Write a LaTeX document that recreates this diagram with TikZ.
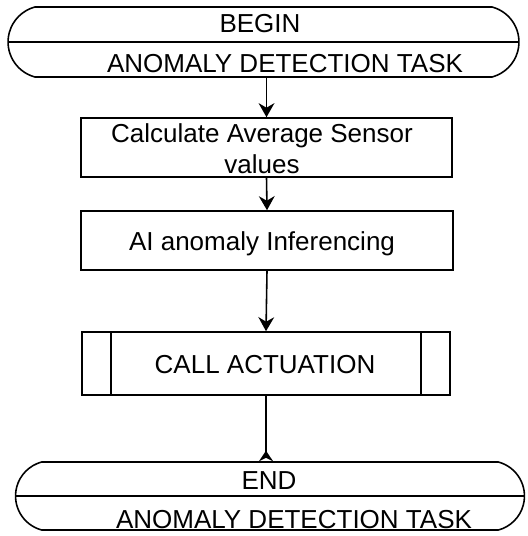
\documentclass[tikz,border=0pt]{standalone}
\usepackage{fontspec}
\setmainfont{Liberation Sans}
\usepackage{tikz}
\usetikzlibrary{
		arrows.meta,
		shapes.misc
	}
\tikzset{%
		every text node part/.style = {
			align = center
		},
		label/.style = {
			inner sep = 0pt,
			font = \fontsize{14.8}{17.5}\selectfont
		},
		terminal/.style = {
			draw,
			rounded rectangle,
			rounded rectangle arc length = 150,
			inner sep = 0pt,
			line width = 0.9pt,
			path picture = {%
				\draw [line width = 0.9pt]
					(path picture bounding box.west) --
					(path picture bounding box.east);
			}
		},
		block/.style = {
			draw,
			rectangle,
			inner sep = 0pt,
			line width = 0.9pt
		},
		subroutine/.style = {
			block,
			path picture = {%
				\draw [line width = 0.9pt]
					([xshift=0.58cm]path picture bounding box.north west) --
					([xshift=0.58cm]path picture bounding box.south west)
					([xshift=-0.58cm]path picture bounding box.north east) --
					([xshift=-0.58cm]path picture bounding box.south east);
			}
		},
		flow/.style = {
			line width = 0.9pt,
			-{Stealth[length=8pt, width=9pt]}
		}
	}

\begin{document}
\begin{tikzpicture}[x=0.02cm, y=-0.02cm]
		\useasboundingbox (0, 0) rectangle (527, 536);

		\node [terminal, minimum width=10.22cm, minimum height=1.4cm] (begin) at (263.5, 42) {};
		\node [label] (begintitle) at (260, 24) {BEGIN};
		\node [label] (begintask) at (285, 64) {ANOMALY DETECTION TASK};

		\node [block, minimum width=7.42cm, minimum height=1.18cm] (average) at (266.5, 147.5) {};
		\node [label] (averagetext) at (262, 149) {Calculate Average Sensor\\values};

		\node [block, minimum width=7.44cm, minimum height=1.18cm] (inference) at (267, 240.5) {};
		\node [label] (inferencetext) at (262, 244) {AI anomaly Inferencing};

		\node [subroutine, minimum width=7.36cm, minimum height=1.26cm] (actuation) at (266, 363.5) {};
		\node [label] (actuationtext) at (265, 365) {CALL ACTUATION};

		\node [terminal, minimum width=10.18cm, minimum height=1.36cm] (end) at (270, 496) {};
		\node [label] (endtitle) at (269, 481) {END};
		\node [label] (endtask) at (294, 520) {ANOMALY DETECTION TASK};

		\draw [flow] (begin.south -| average.north) -- (average.north);
		\draw [flow] (average.south) -- (inference.north);
		\draw [flow] (inference.south) -- (actuation.north);
		\draw [line width = 0.9pt, -{Stealth[reversed, length=6pt, width=8pt]}]
			(actuation.south) -- (actuation.south |- end.north);
	\end{tikzpicture}
\end{document}
